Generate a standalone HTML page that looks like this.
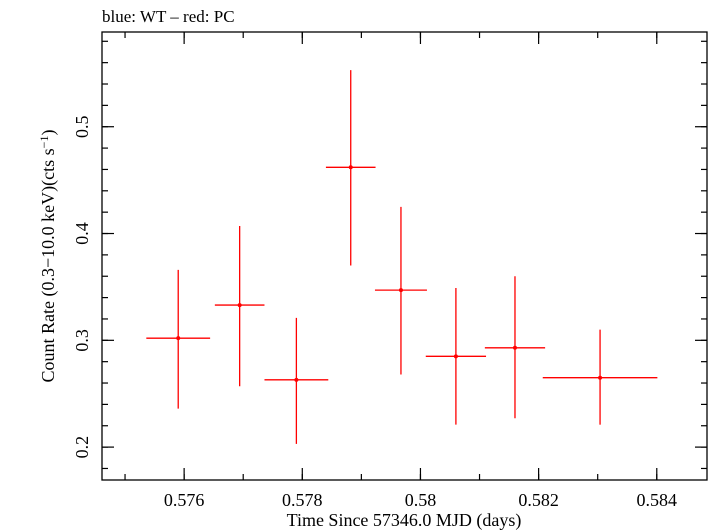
<!DOCTYPE html>
<html><head><meta charset="utf-8"><style>
body{margin:0;background:#fff;}
svg{display:block;font-family:"Liberation Serif",serif;}
</style></head><body>
<svg id="chart" width="709" height="532" viewBox="0 0 709 532">
<text x="102" y="22" font-size="17">blue: WT – red: PC</text>
<rect x="102" y="32" width="605" height="448" fill="none" stroke="#000" stroke-width="1.3"/>
<g id="axes"></g>
<g id="series"></g>
<text x="404" y="526" font-size="18" text-anchor="middle">Time Since 57346.0 MJD (days)</text>
<text transform="translate(54,256) rotate(-90)" font-size="18" text-anchor="middle">Count Rate (0.3−10.0 keV)(cts s<tspan dy="-6" font-size="12">−1</tspan><tspan dy="6">)</tspan></text>
</svg>
<script>
const times=[0.5759,0.57694,0.5779,0.57882,0.57967,0.5806,0.5816,0.58304];
const timeErr=[0.00054,0.00042,0.00054,0.00042,0.00044,0.00051,0.00051,0.00097];
const rates=[0.302,0.333,0.263,0.462,0.347,0.285,0.293,0.265];
const rateLow=[0.236,0.257,0.203,0.370,0.268,0.221,0.227,0.221];
const rateHigh=[0.366,0.407,0.321,0.553,0.425,0.349,0.360,0.310];
const xTicks=[0.576,0.578,0.58,0.582,0.584];
const xTickLabels=["0.576","0.578","0.58","0.582","0.584"];
const yTicks=[0.2,0.3,0.4,0.5];
const yTickLabels=["0.2","0.3","0.4","0.5"];

const L=102,R=707,T=32,B=480;
const xMin=0.57461,xMax=0.58485,yMin=0.1692,yMax=0.5887;
const X=v=>L+(v-xMin)/(xMax-xMin)*(R-L);
const Y=v=>B-(v-yMin)/(yMax-yMin)*(B-T);
const NS="http://www.w3.org/2000/svg";
function mk(tag,attrs,parent){const e=document.createElementNS(NS,tag);for(const k in attrs)e.setAttribute(k,attrs[k]);parent.appendChild(e);return e;}
const ax=document.getElementById('axes');
function ln(x1,y1,x2,y2){return mk('line',{x1,y1,x2,y2,stroke:'#000','stroke-width':1.2},ax);}
// minor x ticks
for(let v=0.575;v<=0.5845;v+=0.001){const x=X(v);ln(x,B,x,B-6);ln(x,T,x,T+6);}
for(let v=0.18;v<=0.585;v+=0.02){const y=Y(v);ln(L,y,L+6,y);ln(R,y,R-6,y);}
xTicks.forEach((v,i)=>{const x=X(v);
const t1=ln(x,B,x,B-12);


ln(x,T,x,T+12);
const t=mk('text',{x:x,y:506,'font-size':18,'text-anchor':'middle'},ax);


t.textContent=xTickLabels[i];});
yTicks.forEach((v,i)=>{const y=Y(v);
const t1=ln(L,y,L+12,y);


ln(R,y,R-12,y);
const t=mk('text',{transform:`translate(88,${y}) rotate(-90)`,'font-size':18,'text-anchor':'middle'},ax);


t.textContent=yTickLabels[i];});
const sg=document.getElementById('series');
times.forEach((t,i)=>{
const g=mk('g',{},sg);


mk('line',{x1:X(t-timeErr[i]),x2:X(t+timeErr[i]),y1:Y(rates[i]),y2:Y(rates[i]),stroke:'#f00','stroke-width':1.3},g);
mk('line',{x1:X(t),x2:X(t),y1:Y(rateLow[i]),y2:Y(rateHigh[i]),stroke:'#f00','stroke-width':1.3},g);
mk('circle',{cx:X(t),cy:Y(rates[i]),r:2,fill:'#f00'},g);
});
</script>
</body></html>
